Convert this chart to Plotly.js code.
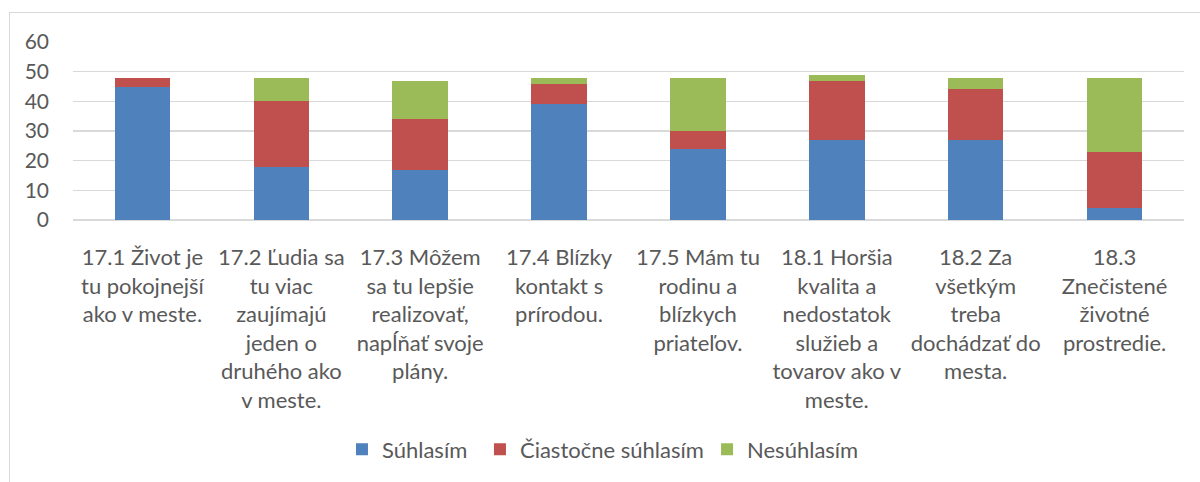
<!DOCTYPE html>
<html>
<head>
<meta charset="utf-8">
<script src="https://cdn.plot.ly/plotly-3.0.1.min.js"></script>
<style>
  html, body { margin: 0; padding: 0; background: #fff; overflow: hidden; }
  #frame { position: absolute; left: 9px; top: 12px; width: 1300px; height: 600px; border: 1px solid #d9d9d9; box-sizing: border-box; }
  #chart { position: absolute; left: 0; top: 0; width: 1200px; height: 482px; }
</style>
</head>
<body>
<div id="frame"></div>
<div id="chart"></div>
<script>
const categories = [
  "17.1 Život je<br>tu pokojnejší<br>ako v meste.",
  "17.2 Ľudia sa<br>tu viac<br>zaujímajú<br>jeden o<br>druhého ako<br>v meste.",
  "17.3 Môžem<br>sa tu lepšie<br>realizovať,<br>napĺňať svoje<br>plány.",
  "17.4 Blízky<br>kontakt s<br>prírodou.",
  "17.5 Mám tu<br>rodinu a<br>blízkych<br>priateľov.",
  "18.1 Horšia<br>kvalita a<br>nedostatok<br>služieb a<br>tovarov ako v<br>meste.",
  "18.2 Za<br>všetkým<br>treba<br>dochádzať do<br>mesta.",
  "18.3<br>Znečistené<br>životné<br>prostredie."
];
const seriesNames = ["Súhlasím", "Čiastočne súhlasím", "Nesúhlasím"];
const suhlasim = [45, 18, 17, 39, 24, 27, 27, 4];
const ciastocne = [3, 22, 17, 7, 6, 20, 17, 19];
const nesuhlasim = [0, 8, 13, 2, 18, 2, 4, 25];
const yTicks = [0, 10, 20, 30, 40, 50, 60];

const colors = ["#4F81BD", "#C0504D", "#9BBB59"];
const values = [suhlasim, ciastocne, nesuhlasim];
const legendIds = ["legend", "legend2", "legend3"];

const traces = values.map((v, i) => ({
  type: "bar",
  name: seriesNames[i],
  x: categories,
  y: v,
  legend: legendIds[i],
  marker: { color: colors[i], line: { width: 0 } },
  hoverinfo: "y+name"
}));

const font = "Lato, 'Open Sans', sans-serif";
const legendFont = { family: font, size: 22, color: "#595959" };
function legendAt(x) {
  return {
    orientation: "h",
    x: x,
    xanchor: "left",
    y: -1.289,
    yanchor: "middle",
    font: legendFont,
    itemwidth: 30,
    bgcolor: "rgba(0,0,0,0)",
    borderwidth: 0
  };
}

const layout = {
  width: 1200,
  height: 482,
  barmode: "stack",
  bargap: 0.6,
  paper_bgcolor: "rgba(0,0,0,0)",
  plot_bgcolor: "rgba(0,0,0,0)",
  margin: { l: 73, r: 16, t: 42, b: 260, pad: 0 },
  font: { family: font, color: "#595959", size: 20 },
  xaxis: {
    type: "category",
    tickfont: { family: font, size: 22, color: "#595959" },
    tickangle: 0,
    showgrid: false,
    showline: false,
    ticks: "",
    ticklabelstandoff: 22,
    automargin: false
  },
  yaxis: {
    range: [0, 60],
    tickvals: yTicks,
    ticktext: yTicks.map(String),
    tickfont: { family: font, size: 21, color: "#595959" },
    showgrid: true,
    gridcolor: "#d9d9d9",
    gridwidth: 1.5,
    zeroline: true,
    zerolinecolor: "#d9d9d9",
    zerolinewidth: 1.5,
    showline: false,
    ticks: "",
    ticklabelstandoff: 23,
    automargin: false
  },
  legend: legendAt(0.2421),
  legend2: legendAt(0.3663),
  legend3: legendAt(0.5707),
  showlegend: true
};

Plotly.newPlot("chart", traces, layout, { displayModeBar: false, staticPlot: true });
</script>
</body>
</html>
